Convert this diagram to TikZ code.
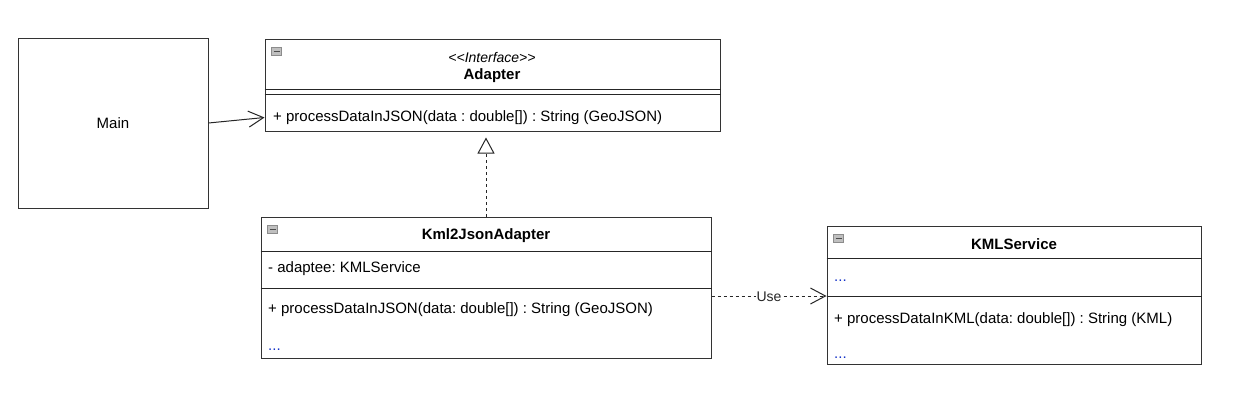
\documentclass[tikz,border=0pt]{standalone}
\usepackage{fontspec}
\setmainfont{Liberation Sans}
\usetikzlibrary{arrows.meta}
\definecolor{dotblue}{RGB}{20,50,200}

\begin{document}
\frenchspacing
\begin{tikzpicture}[x=1pt,y=-1pt,
    box/.style={draw=black!80,line width=1pt,inner sep=0pt},
    member/.style={anchor=west,inner sep=0pt,font=\fontsize{15}{18}\selectfont},
    title/.style={inner sep=0pt,font=\fontsize{15}{18}\selectfont\bfseries},
    dots/.style={member,text=dotblue,text height=1.5pt,text depth=0pt},
    link/.style={line width=1pt,black!85},
    dashline/.style={link,dash pattern=on 3pt off 3pt}]
    \useasboundingbox (0,0) rectangle (1234,410);

    \node[box,minimum width=190pt,minimum height=170pt,font=\fontsize{15}{18}\selectfont] (main) at (113,123) {Main};

    % interface
    \node[box,minimum width=455pt,minimum height=92pt] (adapter) at (492.5,85) {};
    \node[inner sep=0pt,font=\fontsize{14}{17}\selectfont\itshape] (adapterstereo) at (492,57) {<{}<Interface>{}>};
    \node[title] (adaptername) at (492,76) {Adapter};
    \draw[link] (adapter.west |- 0,89) -- (adapter.east |- 0,89);
    \draw[link] (adapter.west |- 0,94) -- (adapter.east |- 0,94);
    \node[member] (adaptermethod) at (273,117.5) {+ processDataInJSON(data : double[]) : String (GeoJSON)};

    % adapter class
    \node[box,minimum width=450pt,minimum height=141pt] (kmladapter) at (486,287.5) {};
    \node[title] (kmladaptername) at (486,236) {Kml2JsonAdapter};
    \draw[link] (kmladapter.west |- 0,251) -- (kmladapter.east |- 0,251);
    \draw[link] (kmladapter.west |- 0,288) -- (kmladapter.east |- 0,288);
    \node[member] (kmladapterattr) at (268,268.5) {- adaptee: KMLService};
    \node[member] (kmladaptermethod) at (268,310) {+ processDataInJSON(data: double[]) : String (GeoJSON)};
    \node[dots] (kmladapterdots) at (268,350) {...};

    % adaptee
    \node[box,minimum width=374pt,minimum height=138pt] (kmlservice) at (1014,295) {};
    \node[title] (kmlservicename) at (1014,244) {KMLService};
    \coordinate (kmlsep) at (kmlservice.west |- 0,296);
    \draw[link] (kmlservice.west |- 0,258) -- (kmlservice.east |- 0,258);
    \draw[link] (kmlsep) -- (kmlservice.east |- kmlsep);
    \node[dots] (kmlservicedots) at (834,281) {...};
    \node[member] (kmlservicemethod) at (834,320) {+ processDataInKML(data: double[]) : String (KML)};
    \node[dots] (kmlservicedotsb) at (834,358) {...};

    \foreach \c in {adapter,kmladapter,kmlservice} {
      \draw[shift={(\c.north west)},fill=black!25,draw=black!45,line width=0.6pt] (7,9) rectangle (17,17);
      \draw[shift={(\c.north west)},line width=1.5pt,black!70] (9,13) -- (15,13);
    }

    \draw[link,-{Straight Barb[length=15pt,width=16pt]}] (main.east) -- (adapter.west |- adaptermethod.west);
    \draw[dashline,-{Triangle[open,length=16pt,width=17pt,line width=1pt]},shorten >=6pt] (kmladapter.north) -- (kmladapter.north |- adapter.south);
    \draw[dashline,-{Straight Barb[length=15pt,width=16pt]}] (kmladapter.east |- kmlsep) -- (kmlsep)
      node[midway,fill=white,inner sep=1pt,yshift=-1pt,font=\fontsize{14}{17}\selectfont] (uselabel) {Use};
\end{tikzpicture}
\end{document}
